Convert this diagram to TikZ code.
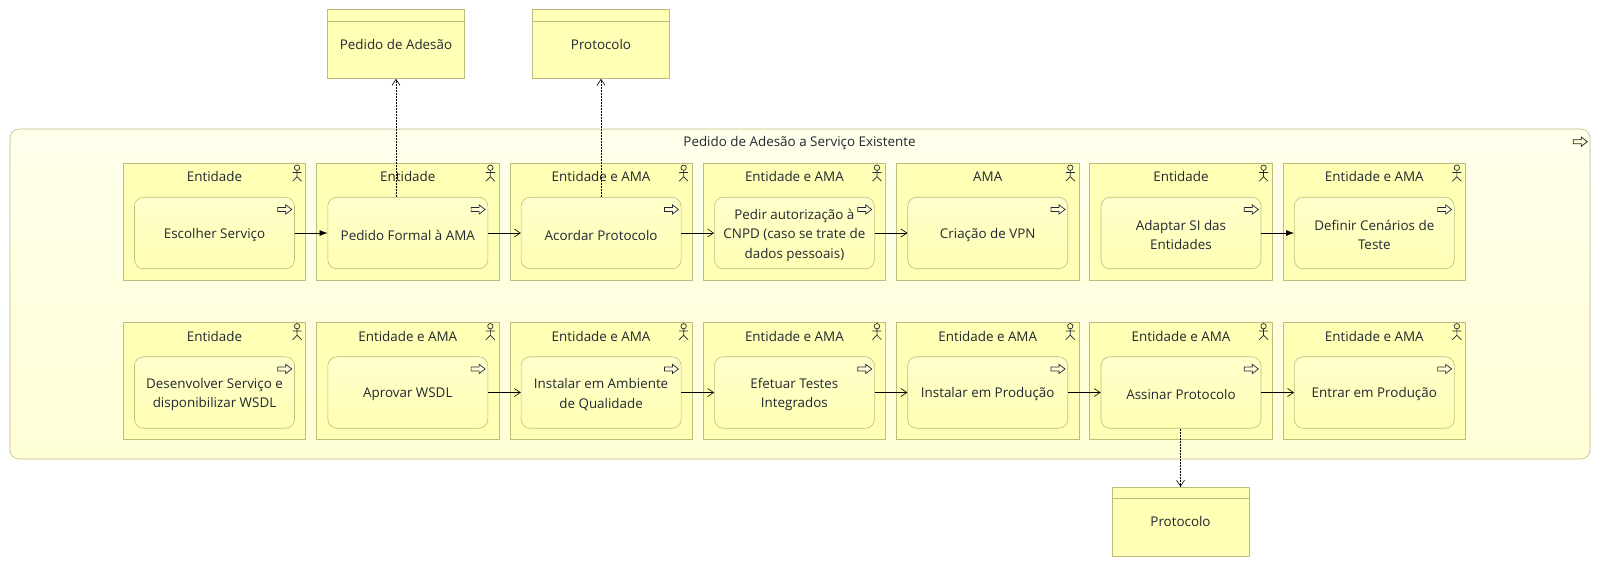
\documentclass[tikz,border=0pt]{standalone}
\usepackage{fontspec}
\setmainfont{Open Sans}
\usetikzlibrary{arrows.meta,calc}
\definecolor{amaline}{HTML}{BDBD80}
\definecolor{amafill}{HTML}{FFFFB5}
\definecolor{amatop}{HTML}{FFFFEC}
\definecolor{amabot}{HTML}{FFFFD6}
\definecolor{amadark}{HTML}{222831}
\tikzset{
  outerbox/.style={draw=amaline,top color=amatop,bottom color=amabot,rounded corners=9pt,semithick,minimum width=1580,minimum height=330},
  lanebox/.style={draw=amaline,fill=amafill,semithick,minimum width=182.5,minimum height=117},
  procbox/.style={draw=amaline,top color=amafill!70!white,bottom color=amafill,rounded corners=9pt,semithick,minimum width=160,minimum height=71.5},
  docbox/.style={draw=amaline,fill=amafill,semithick,minimum width=137,minimum height=69},
  lbl/.style={text=amadark,inner sep=0pt,align=center},
  ar/.style={-{Latex[length=8pt,width=6pt]},draw=black,semithick},
  aro/.style={-{Straight Barb[length=6pt,width=8pt]},draw=black,semithick},
  ard/.style={-{Straight Barb[length=6pt,width=8pt]},draw=black,dash pattern=on 2pt off 1pt,line width=.6pt},
  pics/actoricon/.style={code={
    \draw[amadark,line width=.7pt] (0,-5.5) circle (2.7);
    \draw[amadark,line width=.7pt] (0,-2.8)--(0,3.5) (-4.5,-0.7)--(4.5,-0.7) (-4.5,8)--(0,3.5)--(4.5,8);}},
  pics/flowicon/.style={code={
    \draw[amadark,line width=.7pt,fill=amafill!50!white] (-7,-2)--(1,-2)--(1,-4.6)--(7,0)--(1,4.6)--(1,2)--(-7,2)--cycle;}},
}
\begin{document}
\begin{tikzpicture}[x=1pt,y=-1pt,font=\fontsize{13.4}{19.5}\selectfont]
  \useasboundingbox (0,0) rectangle (1600,566);
  \node[outerbox](geral) at (800,294){};
  \node[lbl](geraltxt) at (799.5,143){Pedido de Adesão a Serviço Existente};
  \pic at ([shift={(-10,13)}]geral.north east) {flowicon};
  \foreach \i/\x/\a/\t in {1/0/Entidade/{Escolher Serviço},2/1/Entidade/{Pedido Formal à AMA},3/2/Entidade e AMA/{Acordar Protocolo},4/3/Entidade e AMA/{Pedir autorização à\\CNPD (caso se trate de\\dados pessoais)},5/4/AMA/{Criação de VPN},6/5/Entidade/{Adaptar SI das\\Entidades},7/6/Entidade e AMA/{Definir Cenários de\\Teste}}{
    \node[lanebox](l\i) at ({214.5+193.3*\x},222){};
    \node[lbl](a\i) at ({214.5+193.3*\x},176.5){\a};
    \node[procbox](p\i) at ({214.5+193.3*\x},233){};
    \node[lbl](t\i) at ([yshift=-2]p\i.center){\t};
    \pic at ([shift={(-9,10)}]l\i.north east) {actoricon};
    \pic at ([shift={(-10,12.5)}]p\i.north east) {flowicon};}
  \foreach \i/\x/\a/\t in {8/0/Entidade/{Desenvolver Serviço e\\disponibilizar WSDL},9/1/Entidade e AMA/{Aprovar WSDL},10/2/Entidade e AMA/{Instalar em Ambiente\\de Qualidade},11/3/Entidade e AMA/{Efetuar Testes\\Integrados},12/4/Entidade e AMA/{Instalar em Produção},13/5/Entidade e AMA/{Assinar Protocolo},14/6/Entidade e AMA/{Entrar em Produção}}{
    \node[lanebox](l\i) at ({214.5+193.3*\x},380.5){};
    \node[lbl](a\i) at ({214.5+193.3*\x},336.5){\a};
    \node[procbox](p\i) at ({214.5+193.3*\x},392.5){};
    \node[lbl](t\i) at ([yshift=-2]p\i.center){\t};
    \pic at ([shift={(-9,10)}]l\i.north east) {actoricon};
    \pic at ([shift={(-10,12.5)}]p\i.north east) {flowicon};}
  \foreach \n/\x/\y/\t in {d1/396/44/{Pedido de Adesão},d2/601/44/{Protocolo},d3/1180.5/521.5/{Protocolo}}{
    \node[docbox](\n) at (\x,\y){};
    \node[lbl](\n t) at (\n.center){\t};
    \draw[amaline,semithick] ([yshift=-12]\n.north west)--([yshift=-12]\n.north east);}
  \draw[ar] (p1)--(p2);
  \draw[ar] (p6)--(p7);
  \foreach \a/\b in {p2/p3,p3/p4,p4/p5,p9/p10,p10/p11,p11/p12,p12/p13,p13/p14}{
    \draw[aro] (\a)--(\b);}
  \draw[ard] (d1.south |- p2.north)--(d1.south);
  \draw[ard] (d2.south |- p3.north)--(d2.south);
  \draw[ard] (d3.north |- p13.south)--(d3.north);
\end{tikzpicture}
\end{document}
